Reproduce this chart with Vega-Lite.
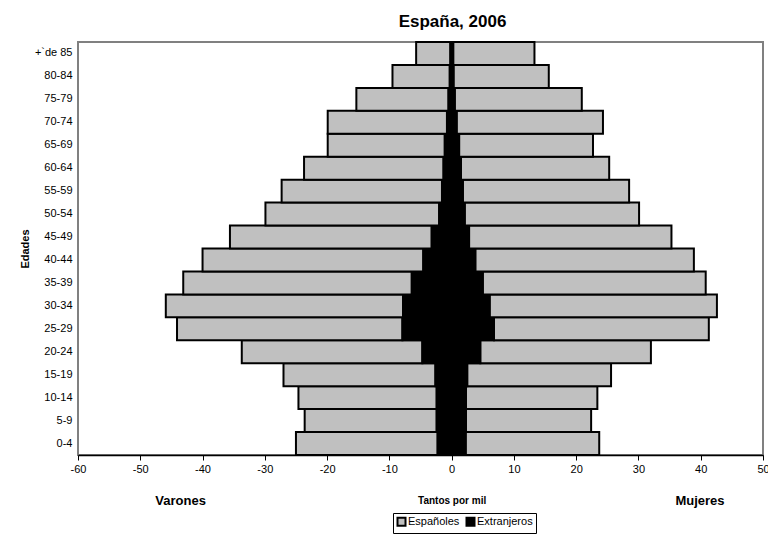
{
  "$schema": "https://vega.github.io/schema/vega-lite/v6.json",
  "width": 685,
  "height": 413,
  "autosize": {"type": "none"},
  "padding": {"left": 78, "top": 42, "right": 5, "bottom": 89},
  "background": "white",
  "config": {
    "font": "Liberation Sans",
    "view": {"stroke": "#808080", "strokeWidth": 2},
    "axis": {"grid": false}
  },
  "title": {
    "text": "España, 2006",
    "fontSize": 17,
    "fontWeight": "bold",
    "color": "black",
    "anchor": "middle",
    "frame": "group",
    "dx": 32,
    "offset": 10
  },
  "data": {
    "values": [
      {"edad": "0-4", "sexo": "Varones", "origen": "Españoles", "valor": -22.75},
      {"edad": "0-4", "sexo": "Varones", "origen": "Extranjeros", "valor": -2.25},
      {"edad": "0-4", "sexo": "Mujeres", "origen": "Españoles", "valor": 21.45},
      {"edad": "0-4", "sexo": "Mujeres", "origen": "Extranjeros", "valor": 2.25},
      {"edad": "5-9", "sexo": "Varones", "origen": "Españoles", "valor": -21.2},
      {"edad": "5-9", "sexo": "Varones", "origen": "Extranjeros", "valor": -2.4},
      {"edad": "5-9", "sexo": "Mujeres", "origen": "Españoles", "valor": 20.1},
      {"edad": "5-9", "sexo": "Mujeres", "origen": "Extranjeros", "valor": 2.3},
      {"edad": "10-14", "sexo": "Varones", "origen": "Españoles", "valor": -22.2},
      {"edad": "10-14", "sexo": "Varones", "origen": "Extranjeros", "valor": -2.4},
      {"edad": "10-14", "sexo": "Mujeres", "origen": "Españoles", "valor": 21.1},
      {"edad": "10-14", "sexo": "Mujeres", "origen": "Extranjeros", "valor": 2.3},
      {"edad": "15-19", "sexo": "Varones", "origen": "Españoles", "valor": -24.4},
      {"edad": "15-19", "sexo": "Varones", "origen": "Extranjeros", "valor": -2.6},
      {"edad": "15-19", "sexo": "Mujeres", "origen": "Españoles", "valor": 23.1},
      {"edad": "15-19", "sexo": "Mujeres", "origen": "Extranjeros", "valor": 2.5},
      {"edad": "20-24", "sexo": "Varones", "origen": "Españoles", "valor": -29.0},
      {"edad": "20-24", "sexo": "Varones", "origen": "Extranjeros", "valor": -4.7},
      {"edad": "20-24", "sexo": "Mujeres", "origen": "Españoles", "valor": 27.4},
      {"edad": "20-24", "sexo": "Mujeres", "origen": "Extranjeros", "valor": 4.6},
      {"edad": "25-29", "sexo": "Varones", "origen": "Españoles", "valor": -36.2},
      {"edad": "25-29", "sexo": "Varones", "origen": "Extranjeros", "valor": -7.9},
      {"edad": "25-29", "sexo": "Mujeres", "origen": "Españoles", "valor": 34.5},
      {"edad": "25-29", "sexo": "Mujeres", "origen": "Extranjeros", "valor": 6.8},
      {"edad": "30-34", "sexo": "Varones", "origen": "Españoles", "valor": -38.1},
      {"edad": "30-34", "sexo": "Varones", "origen": "Extranjeros", "valor": -7.8},
      {"edad": "30-34", "sexo": "Mujeres", "origen": "Españoles", "valor": 36.5},
      {"edad": "30-34", "sexo": "Mujeres", "origen": "Extranjeros", "valor": 6.1},
      {"edad": "35-39", "sexo": "Varones", "origen": "Españoles", "valor": -36.7},
      {"edad": "35-39", "sexo": "Varones", "origen": "Extranjeros", "valor": -6.4},
      {"edad": "35-39", "sexo": "Mujeres", "origen": "Españoles", "valor": 35.8},
      {"edad": "35-39", "sexo": "Mujeres", "origen": "Extranjeros", "valor": 5.0},
      {"edad": "40-44", "sexo": "Varones", "origen": "Españoles", "valor": -35.45},
      {"edad": "40-44", "sexo": "Varones", "origen": "Extranjeros", "valor": -4.55},
      {"edad": "40-44", "sexo": "Mujeres", "origen": "Españoles", "valor": 35.1},
      {"edad": "40-44", "sexo": "Mujeres", "origen": "Extranjeros", "valor": 3.8},
      {"edad": "45-49", "sexo": "Varones", "origen": "Españoles", "valor": -32.4},
      {"edad": "45-49", "sexo": "Varones", "origen": "Extranjeros", "valor": -3.2},
      {"edad": "45-49", "sexo": "Mujeres", "origen": "Españoles", "valor": 32.5},
      {"edad": "45-49", "sexo": "Mujeres", "origen": "Extranjeros", "valor": 2.8},
      {"edad": "50-54", "sexo": "Varones", "origen": "Españoles", "valor": -27.9},
      {"edad": "50-54", "sexo": "Varones", "origen": "Extranjeros", "valor": -2.0},
      {"edad": "50-54", "sexo": "Mujeres", "origen": "Españoles", "valor": 28.0},
      {"edad": "50-54", "sexo": "Mujeres", "origen": "Extranjeros", "valor": 2.1},
      {"edad": "55-59", "sexo": "Varones", "origen": "Españoles", "valor": -25.75},
      {"edad": "55-59", "sexo": "Varones", "origen": "Extranjeros", "valor": -1.55},
      {"edad": "55-59", "sexo": "Mujeres", "origen": "Españoles", "valor": 26.7},
      {"edad": "55-59", "sexo": "Mujeres", "origen": "Extranjeros", "valor": 1.8},
      {"edad": "60-64", "sexo": "Varones", "origen": "Españoles", "valor": -22.4},
      {"edad": "60-64", "sexo": "Varones", "origen": "Extranjeros", "valor": -1.3},
      {"edad": "60-64", "sexo": "Mujeres", "origen": "Españoles", "valor": 23.8},
      {"edad": "60-64", "sexo": "Mujeres", "origen": "Extranjeros", "valor": 1.5},
      {"edad": "65-69", "sexo": "Varones", "origen": "Españoles", "valor": -18.8},
      {"edad": "65-69", "sexo": "Varones", "origen": "Extranjeros", "valor": -1.1},
      {"edad": "65-69", "sexo": "Mujeres", "origen": "Españoles", "valor": 21.5},
      {"edad": "65-69", "sexo": "Mujeres", "origen": "Extranjeros", "valor": 1.2},
      {"edad": "70-74", "sexo": "Varones", "origen": "Españoles", "valor": -19.15},
      {"edad": "70-74", "sexo": "Varones", "origen": "Extranjeros", "valor": -0.75},
      {"edad": "70-74", "sexo": "Mujeres", "origen": "Españoles", "valor": 23.5},
      {"edad": "70-74", "sexo": "Mujeres", "origen": "Extranjeros", "valor": 0.8},
      {"edad": "75-79", "sexo": "Varones", "origen": "Españoles", "valor": -14.8},
      {"edad": "75-79", "sexo": "Varones", "origen": "Extranjeros", "valor": -0.5},
      {"edad": "75-79", "sexo": "Mujeres", "origen": "Españoles", "valor": 20.4},
      {"edad": "75-79", "sexo": "Mujeres", "origen": "Extranjeros", "valor": 0.5},
      {"edad": "80-84", "sexo": "Varones", "origen": "Españoles", "valor": -9.2},
      {"edad": "80-84", "sexo": "Varones", "origen": "Extranjeros", "valor": -0.3},
      {"edad": "80-84", "sexo": "Mujeres", "origen": "Españoles", "valor": 15.3},
      {"edad": "80-84", "sexo": "Mujeres", "origen": "Extranjeros", "valor": 0.3},
      {"edad": "+`de 85", "sexo": "Varones", "origen": "Españoles", "valor": -5.5},
      {"edad": "+`de 85", "sexo": "Varones", "origen": "Extranjeros", "valor": -0.2},
      {"edad": "+`de 85", "sexo": "Mujeres", "origen": "Españoles", "valor": 13.05},
      {"edad": "+`de 85", "sexo": "Mujeres", "origen": "Extranjeros", "valor": 0.25}
    ]
  },
  "encoding": {
    "y": {
      "field": "edad",
      "type": "nominal",
      "sort": ["+`de 85", "80-84", "75-79", "70-74", "65-69", "60-64", "55-59", "50-54", "45-49", "40-44", "35-39", "30-34", "25-29", "20-24", "15-19", "10-14", "5-9", "0-4"],
      "scale": {"paddingInner": 0, "paddingOuter": 0},
      "axis": {
        "title": "Edades",
        "titleFontSize": 11,
        "titleFontWeight": "bold",
        "titleColor": "black",
        "titlePadding": 4,
        "labelFontSize": 11,
        "labelColor": "black",
        "labelPadding": 6,
        "ticks": false,
        "domain": false
      }
    },
    "color": {
      "field": "origen",
      "type": "nominal",
      "scale": {"domain": ["Españoles", "Extranjeros"], "range": ["#c0c0c0", "#000000"]},
      "legend": {
        "orient": "none",
        "legendX": 315,
        "legendY": 471,
        "direction": "horizontal",
        "title": null,
        "symbolType": "square",
        "symbolSize": 64,
        "symbolStrokeColor": "black",
        "symbolStrokeWidth": 2,
        "labelFontSize": 11,
        "labelColor": "black",
        "labelOffset": 1,
        "columnPadding": 2,
        "strokeColor": "black",
        "fillColor": "white",
        "padding": 3
      }
    },
    "order": {"field": "origen", "sort": "descending"}
  },
  "layer": [
    {
      "transform": [{"filter": "datum.sexo == 'Varones'"}],
      "mark": {"type": "bar", "stroke": "black", "strokeWidth": 2},
      "encoding": {
        "x": {
          "field": "valor",
          "type": "quantitative",
          "stack": "zero",
          "scale": {"domain": [-60, 50], "nice": false},
          "axis": {
            "orient": "bottom",
            "values": [-60, -50, -40, -30, -20, -10, 0, 10, 20, 30, 40, 50],
            "labelExpr": "'' + datum.value",
            "title": null,
            "labelFontSize": 11,
            "labelColor": "black",
            "labelPadding": 3,
            "labelFlush": false,
            "labelOverlap": false,
            "tickColor": "black",
            "tickSize": 5,
            "domainColor": "black",
            "domainWidth": 1.5,
            "grid": false
          }
        }
      }
    },
    {
      "transform": [{"filter": "datum.sexo == 'Mujeres'"}],
      "mark": {"type": "bar", "stroke": "black", "strokeWidth": 2},
      "encoding": {
        "x": {
          "field": "valor",
          "type": "quantitative",
          "stack": "zero",
          "scale": {"domain": [-60, 50], "nice": false},
          "axis": {
            "orient": "bottom",
            "values": [-43.6, 0, 39.8],
            "labelExpr": "datum.value < -1 ? 'Varones' : (datum.value > 1 ? 'Mujeres' : 'Tantos por mil')",
            "title": null,
            "domain": false,
            "ticks": false,
            "grid": false,
            "labelFontWeight": "bold",
            "labelFontSize": {"condition": {"test": "datum.value == 0", "value": 10}, "value": 13},
            "labelColor": "black",
            "labelBaseline": "middle",
            "labelPadding": 45,
            "labelFlush": false,
            "labelOverlap": false
          }
        }
      }
    }
  ],
  "resolve": {"axis": {"x": "independent"}}
}
